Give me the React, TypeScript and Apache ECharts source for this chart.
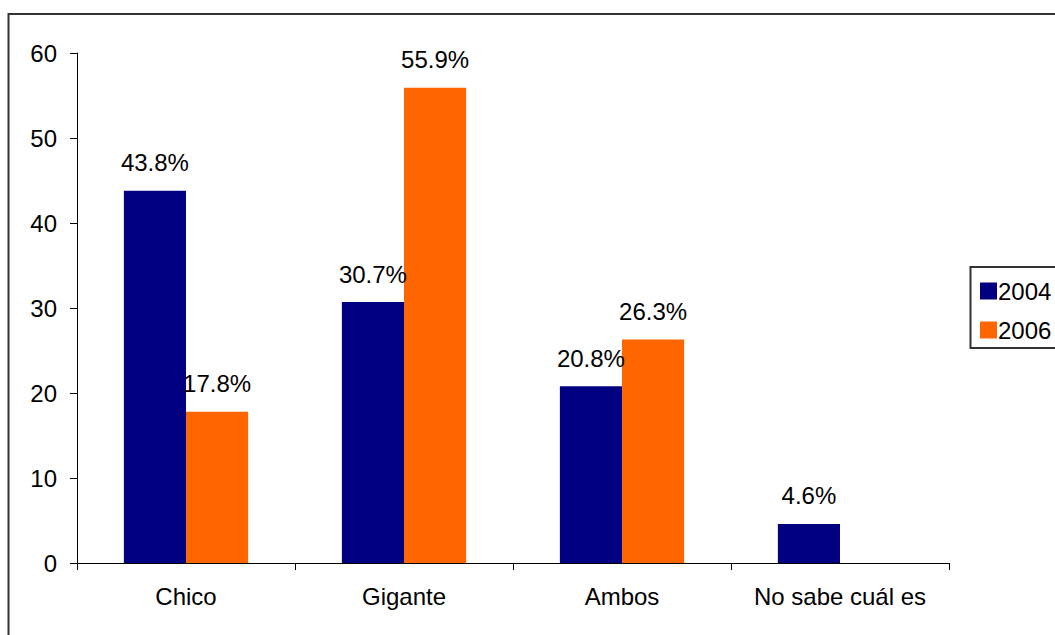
import React, { useEffect, useRef } from "react";
import * as echarts from "echarts";

const categories = ["Chico", "Gigante", "Ambos", "No sabe cuál es"];
const seriesNames = ["2004", "2006"];
const values2004 = [43.8, 30.7, 20.8, 4.6];
const values2006: (number | null)[] = [17.8, 55.9, 26.3, null];
const colors = ["#000080", "#FF6600"];
const yTicks = { min: 0, max: 60, interval: 10 };

const FONT = "'Liberation Sans', Arial, sans-serif";
const FS = 24;

export default function App() {
  const ref = useRef<HTMLDivElement>(null);
  useEffect(() => {
    if (!ref.current) return;
    const chart = echarts.init(ref.current, null, { renderer: "svg" });
    const label = {
      show: true,
      position: "top" as const,
      distance: 16,
      color: "#000",
      fontSize: FS,
      fontFamily: FONT,
      formatter: (p: any) => (p.value == null ? "" : Number(p.value).toFixed(1) + "%"),
    };
    chart.setOption({
      animation: false,
      backgroundColor: "#fff",
      textStyle: { fontFamily: FONT },
      grid: { left: 77, top: 53, width: 872, height: 510, containLabel: false },
      legend: {
        orient: "vertical",
        left: 980,
        top: 279,
        itemWidth: 17,
        itemHeight: 17,
        itemGap: 15,
        icon: "rect",
        padding: 0,
        textStyle: { fontSize: FS, color: "#000", fontFamily: FONT, padding: [0, 0, 0, -4] },
        data: seriesNames,
      },
      xAxis: {
        type: "category",
        data: categories,
        axisLine: { lineStyle: { color: "#000", width: 1 } },
        axisTick: { show: true, length: 7, interval: 0, lineStyle: { color: "#000" } },
        axisLabel: { fontSize: FS, color: "#000", fontFamily: FONT, margin: 21, interval: 0 },
      },
      yAxis: {
        type: "value",
        min: yTicks.min,
        max: yTicks.max,
        interval: yTicks.interval,
        axisLine: { show: true, lineStyle: { color: "#000", width: 1 } },
        axisTick: { show: true, length: 7, lineStyle: { color: "#000" } },
        splitLine: { show: false },
        axisLabel: { fontSize: FS, color: "#000", fontFamily: FONT, margin: 20 },
      },
      series: [
        {
          name: seriesNames[0],
          type: "bar",
          data: values2004,
          itemStyle: { color: colors[0] },
          barGap: "0%",
          barCategoryGap: "43%",
          label,
        },
        {
          name: seriesNames[1],
          type: "bar",
          data: values2006,
          itemStyle: { color: colors[1] },
          barGap: "0%",
          barCategoryGap: "43%",
          label,
        },
      ],
      graphic: [
        {
          type: "rect",
          shape: { x: 8.5, y: 14, width: 1200, height: 800 },
          style: { fill: "none", stroke: "#333", lineWidth: 2 },
          silent: true,
        },
        {
          type: "rect",
          shape: { x: 970.5, y: 267, width: 200, height: 81 },
          style: { fill: "none", stroke: "#333", lineWidth: 2 },
          silent: true,
        },
      ],
    });
    return () => chart.dispose();
  }, []);
  return (
    <div
      ref={ref}
      style={{ position: "fixed", left: 0, top: 0, width: 1055, height: 635 }}
    />
  );
}
